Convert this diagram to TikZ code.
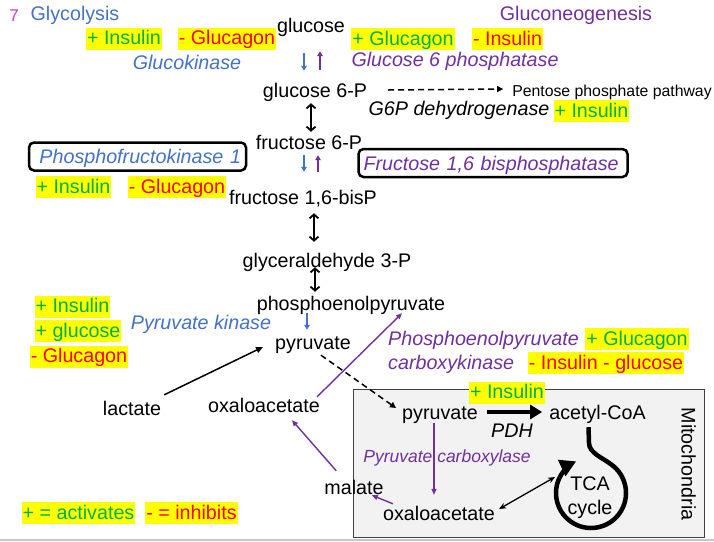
\documentclass[tikz,border=0pt]{standalone}
\usepackage{fontspec}
\setmainfont{Liberation Sans}
\usetikzlibrary{arrows.meta,calc}
\definecolor{cblue}{HTML}{4472C4}
\definecolor{cpurp}{HTML}{7030A0}
\definecolor{cgreen}{HTML}{00B050}
\definecolor{cred}{HTML}{FF0000}
\definecolor{cyel}{HTML}{FFFF00}
\definecolor{cmag}{HTML}{D03CB0}
\definecolor{mitofill}{HTML}{F2F2F2}
\newcommand\fmain{\fontsize{19.7}{24}\selectfont}
\begin{document}
\begin{tikzpicture}[x=1pt,y=-1pt,
  met/.style={inner sep=0pt, font=\fmain, text height=16pt, text depth=2pt},
  enz/.style={met, font=\fmain\itshape},
  hl/.style={fill=cyel, inner xsep=1pt, inner ysep=1.75pt, font=\fmain, text height=15.5pt, text depth=3pt},
  upreg/.style={hl, text=cgreen},
  downreg/.style={hl, text=cred},
  ebox/.style={draw=black, line width=2.5pt, rounded corners=5pt, inner xsep=5pt, inner ysep=5pt, text height=16pt, text depth=2pt, font=\fmain\itshape},
  sarr/.style={line width=1.6pt, -{Triangle[length=5pt,width=5.5pt]}},
  dbl/.style={line width=1.8pt, {Straight Barb[length=4pt,width=9pt]}-{Straight Barb[length=4pt,width=9pt]}},
  dasharr/.style={line width=1.5pt, dash pattern=on 6pt off 4pt, -{Triangle[length=6pt,width=6pt]}},
  parr/.style={cpurp, line width=1.4pt, -{Triangle[length=6pt,width=5pt]}}
]
\useasboundingbox (0,0) rectangle (714,541);
\fill[white] (0,0) rectangle (714,541);
\draw[line width=2pt, black!22] (0,540) -- (714,540);

% mitochondria compartment
\draw[fill=mitofill, draw=black!75, line width=1pt] (353,389) rectangle (704,537);
\node[inner sep=0pt, font=\fmain, text height=14pt, text depth=4pt, rotate=-90] (mitol) at (686.5,464) {Mitochondria};

% headings
\node[met, font=\fontsize{17}{20}\selectfont, text=cmag] (seven) at (14,14) {7};
\node[met, text=cblue] (glyco) at (75,13) {Glycolysis};
\node[met, text=cpurp] (gneo) at (576,13) {Gluconeogenesis};

% metabolites
\node[met] (glc) at (311,25) {glucose};
\node[met] (g6p) at (315,90) {glucose 6-P};
\node[met, font=\fontsize{15.8}{19}\selectfont] (ppp) at (612,89) {Pentose phosphate pathway};
\node[met] (f6p) at (309,142) {fructose 6-P};
\node[met] (f16bp) at (303,197) {fructose 1,6-bisP};
\node[met] (gap) at (327,260) {glyceraldehyde 3-P};
\node[met] (pep) at (351,303) {phosphoenolpyruvate};
\node[met] (pyr) at (313,342) {pyruvate};
\node[met] (lac) at (132,408) {lactate};
\node[met] (oaa) at (264,405) {oxaloacetate};
\node[met] (mal) at (354,487) {malate};
\node[met] (mpyr) at (440,412) {pyruvate};
\node[met] (acoa) at (597.5,412) {acetyl-CoA};
\node[met] (moaa) at (439,513) {oxaloacetate};
\node[inner sep=0pt, font=\fontsize{19.7}{24}\selectfont, align=center] (tca) at (590,498) {TCA\\cycle};
\coordinate (tcaC) at (591,493);

% enzymes
\node[enz, text=cblue] (gk) at (187,62) {Glucokinase};
\node[enz, text=cpurp] (g6pase) at (455,59) {Glucose 6 phosphatase};
\node[enz] (g6pdh) at (459,108) {G6P dehydrogenase};
\node[ebox, text=cblue, text width=207pt, align=right] (pfk) at (137.5,156.5) {Phosphofructokinase 1};
\node[ebox, text=cpurp, text width=259pt, align=left] (fbp) at (493,163) {Fructose 1,6 bisphosphatase};
\node[enz, text=cblue] (pk) at (201,322) {Pyruvate kinase};
\node[enz, text=cpurp, anchor=west] (pepck1) at (388,338) {Phosphoenolpyruvate};
\node[enz, text=cpurp, anchor=west] (pepck2) at (388,362) {carboxykinase};
\node[enz] (pdh) at (512,430) {PDH};
\node[enz, font=\fontsize{17.5}{21}\selectfont\itshape, text=cpurp] (pc) at (447,455) {Pyruvate carboxylase};

% regulators
\node[upreg] (r1) at (124,38.5) {+ Insulin};
\node[downreg] (r2) at (227,38.5) {- Glucagon};
\node[upreg] (r3) at (403,39) {+ Glucagon};
\node[downreg] (r4) at (507.5,39) {- Insulin};
\node[upreg] (r5) at (591.5,111) {+ Insulin};
\node[upreg] (r6) at (73.5,187) {+ Insulin};
\node[downreg] (r7) at (177,187) {- Glucagon};
\node[upreg] (r8) at (72.5,306.5) {+ Insulin};
\node[upreg] (r9) at (78,331) {+ glucose};
\node[downreg] (r10) at (79,356.5) {- Glucagon};
\node[upreg] (r11) at (637,339) {+ Glucagon};
\node[downreg] (r12) at (606,363) {- Insulin - glucose};
\node[upreg] (r13) at (507,392.5) {+ Insulin};
\node[upreg] (act) at (78.5,513) {+ = activates};
\node[downreg] (inh) at (191.5,513) {- = inhibits};

% connectors
\draw[sarr, cblue] ($(glc.south)+(-7,19)$) -- ($(g6p.north)+(-11,-10)$);
\draw[sarr, cpurp] ($(g6p.north)+(5,-11)$) -- ($(glc.south)+(9,17)$);
\draw[dasharr] ($(g6p.east)+(21,0)$) -- ($(ppp.west)+(-9,0)$);
\draw[dbl] ($(g6p.south)+(-4,4)$) -- ($(f6p.north)+(2,-1)$);
\draw[sarr, cblue] ($(f6p.south)+(-5,4)$) -- ($(f16bp.north)+(1,-16)$);
\draw[sarr, cpurp] ($(f16bp.north)+(15,-16)$) -- ($(f6p.south)+(9,4)$);
\draw[dbl] ($(f16bp.south)+(11,7)$) -- ($(gap.north)+(-13,-9)$);
\draw[dbl] ($(gap.south)+(-12,-2)$) -- ($(pep.north)+(-36,-2)$);
\draw[sarr, cblue] ($(pep.south)+(-44,1)$) -- ($(pyr.north)+(-6,-3)$);
\draw[line width=1.5pt, -{Triangle[length=7pt,width=6pt]}] ($(lac.north east)+(3,-4)$) -- ($(pyr.west)+(-12,5)$);
\draw[parr] ($(oaa.north east)+(-3,1)$) -- ($(pep.south)+(51,1)$);
\draw[dasharr] ($(pyr.south)+(8,4)$) -- ($(mpyr.west)+(-6,-4)$);
\draw[line width=4.5pt, -{Triangle[length=12pt,width=14pt]}] ($(mpyr.east)+(9,0)$) -- ($(acoa.west)+(-7,0)$);
\draw[parr] ($(mpyr.south)+(-6,2)$) -- ($(moaa.north)+(-5,-9)$);
\draw[parr] ($(moaa.north west)+(10,0)$) -- ($(mal.south east)+(-12,-1)$);
\draw[parr] ($(mal.north west)+(12,-7)$) -- ($(oaa.south)+(28,6)$);
\draw[line width=1.3pt, {Stealth[length=7pt,width=6pt]}-{Stealth[length=7pt,width=6pt]}] ($(moaa.east)+(4,-4)$) -- ($(tcaC)+(-36,-16)$);
\draw[line width=4.5pt, -{Triangle[length=16pt,width=17pt]}]
  ($(acoa.south)+(-9,6)$) -- ($(tcaC)+(-2,-50)$)
  .. controls ($(tcaC)+(-2,-40)$) and ($(tcaC)+(12,-35)$) .. ($(tcaC)+(-55:35)$)
  arc[start angle=-55, end angle=245, radius=35];
\end{tikzpicture}
\end{document}
